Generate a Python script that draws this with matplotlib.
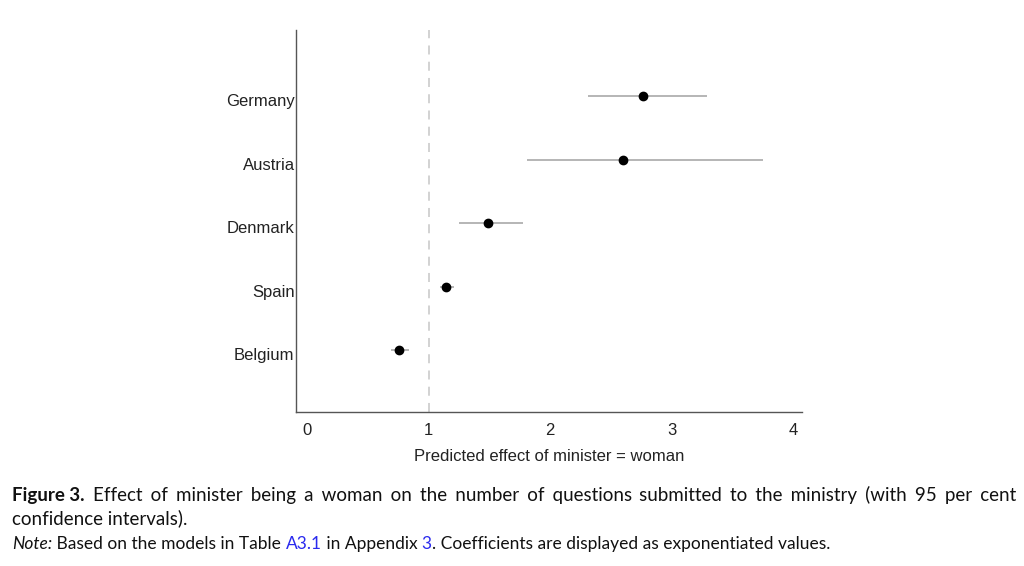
import numpy as np
import matplotlib.pyplot as plt
import matplotlib.transforms as mtransforms

countries = ['Belgium', 'Spain', 'Denmark', 'Austria', 'Germany']
estimate = [0.76, 1.14, 1.49, 2.60, 2.76]
ci_low = [0.69, 1.09, 1.25, 1.81, 2.31]
ci_high = [0.84, 1.21, 1.78, 3.75, 3.29]
x_ticks = [0, 1, 2, 3, 4]

W, H = 1024, 566
plt.rcParams['font.family'] = ['Liberation Sans', 'DejaVu Sans']

fig = plt.figure(figsize=(W / 100, H / 100), dpi=100)
ax = fig.add_axes([296 / W, 1 - 412 / H, (802 - 296) / W, (412 - 30) / H])

ypos = np.arange(1, len(countries) + 1)
ax.axvline(1, color='#cfcfcf', lw=1.3, ls=(0, (5, 4)), zorder=1)
ax.hlines(ypos, ci_low, ci_high, color='#b5b5b5', lw=1.4, zorder=2)
ax.plot(estimate, ypos, 'o', color='black', ms=6, zorder=3)

ax.set_xlim(-0.09, 4.07)
ax.set_ylim(0.03, 6.04)
ax.set_yticks(ypos)
ax.set_yticklabels(countries)
ax.set_xticks(x_ticks)
ax.tick_params(axis='both', length=0, labelsize=12, colors='#222222')
ax.tick_params(axis='y', pad=1)
ax.tick_params(axis='x', pad=8)
ax.set_xlabel('Predicted effect of minister = woman', fontsize=12, color='#222222', labelpad=8)
for s in ['top', 'right']:
    ax.spines[s].set_visible(False)
for s in ['left', 'bottom']:
    ax.spines[s].set_color('#555555')
    ax.spines[s].set_linewidth(1.0)

# the country labels sit a little below their rows in the original
shift = mtransforms.ScaledTranslation(0, -4 / 100, fig.dpi_scale_trans)
for lab in ax.get_yticklabels():
    lab.set_transform(lab.get_transform() + shift)

# caption, placed in pixel coordinates
cap_font = ['Lato', 'DejaVu Sans']
renderer = fig.canvas.get_renderer()


def put(x, y, s, **kw):
    t = fig.text(x / W, 1 - y / H, s, family=cap_font, va='baseline', ha='left', **kw)
    return t, t.get_window_extent(renderer).width


def width(s, **kw):
    t, w = put(0, 0, s, **kw)
    t.remove()
    return w


def pieces(x, y, parts, size):
    for s, kw in parts:
        t, w = put(x, y, s, fontsize=size, **kw)
        x += w


# first line, justified between x=12 and x=1016 (extra room filled with hair spaces)
bold_part = 'Figure 3.'
rest_words = ['Effect', 'of', 'minister', 'being', 'a', 'woman', 'on', 'the', 'number',
              'of', 'questions', 'submitted', 'to', 'the', 'ministry', '(with', '95', 'per', 'cent']
size1 = 13.5
ink = '#111111'
w_bold = width(bold_part, fontsize=size1, weight='bold')
w_rest = width(' '.join(rest_words), fontsize=size1)
sp = width('a a', fontsize=size1) - width('aa', fontsize=size1)
hair = width('a\u200aa', fontsize=size1) - width('aa', fontsize=size1)
n_gaps = len(rest_words)
extra = (1016 - 12) - (w_bold + sp + w_rest)
e = extra / n_gaps

put(12, 501, bold_part, fontsize=size1, weight='bold', color=ink)
line = rest_words[0]
acc, used = 0.0, 0
for w in rest_words[1:]:
    acc += e
    k = int(round(acc / hair)) - used
    used += k
    line += ' ' + '\u200a' * k + w
put(12 + w_bold + sp + e, 501, line, fontsize=size1, color=ink)

put(12, 524, 'confidence intervals).', fontsize=size1, color=ink)

blue = '#2a2aee'
pieces(12, 549, [('Note:', dict(style='italic', color=ink)),
                 (' Based on the models in Table ', dict(color=ink)),
                 ('A3.1', dict(color=blue)),
                 (' in Appendix ', dict(color=ink)),
                 ('3', dict(color=blue)),
                 ('. Coefficients are displayed as exponentiated values.', dict(color=ink))],
       12.5)

fig.savefig('out.png', dpi=100)
